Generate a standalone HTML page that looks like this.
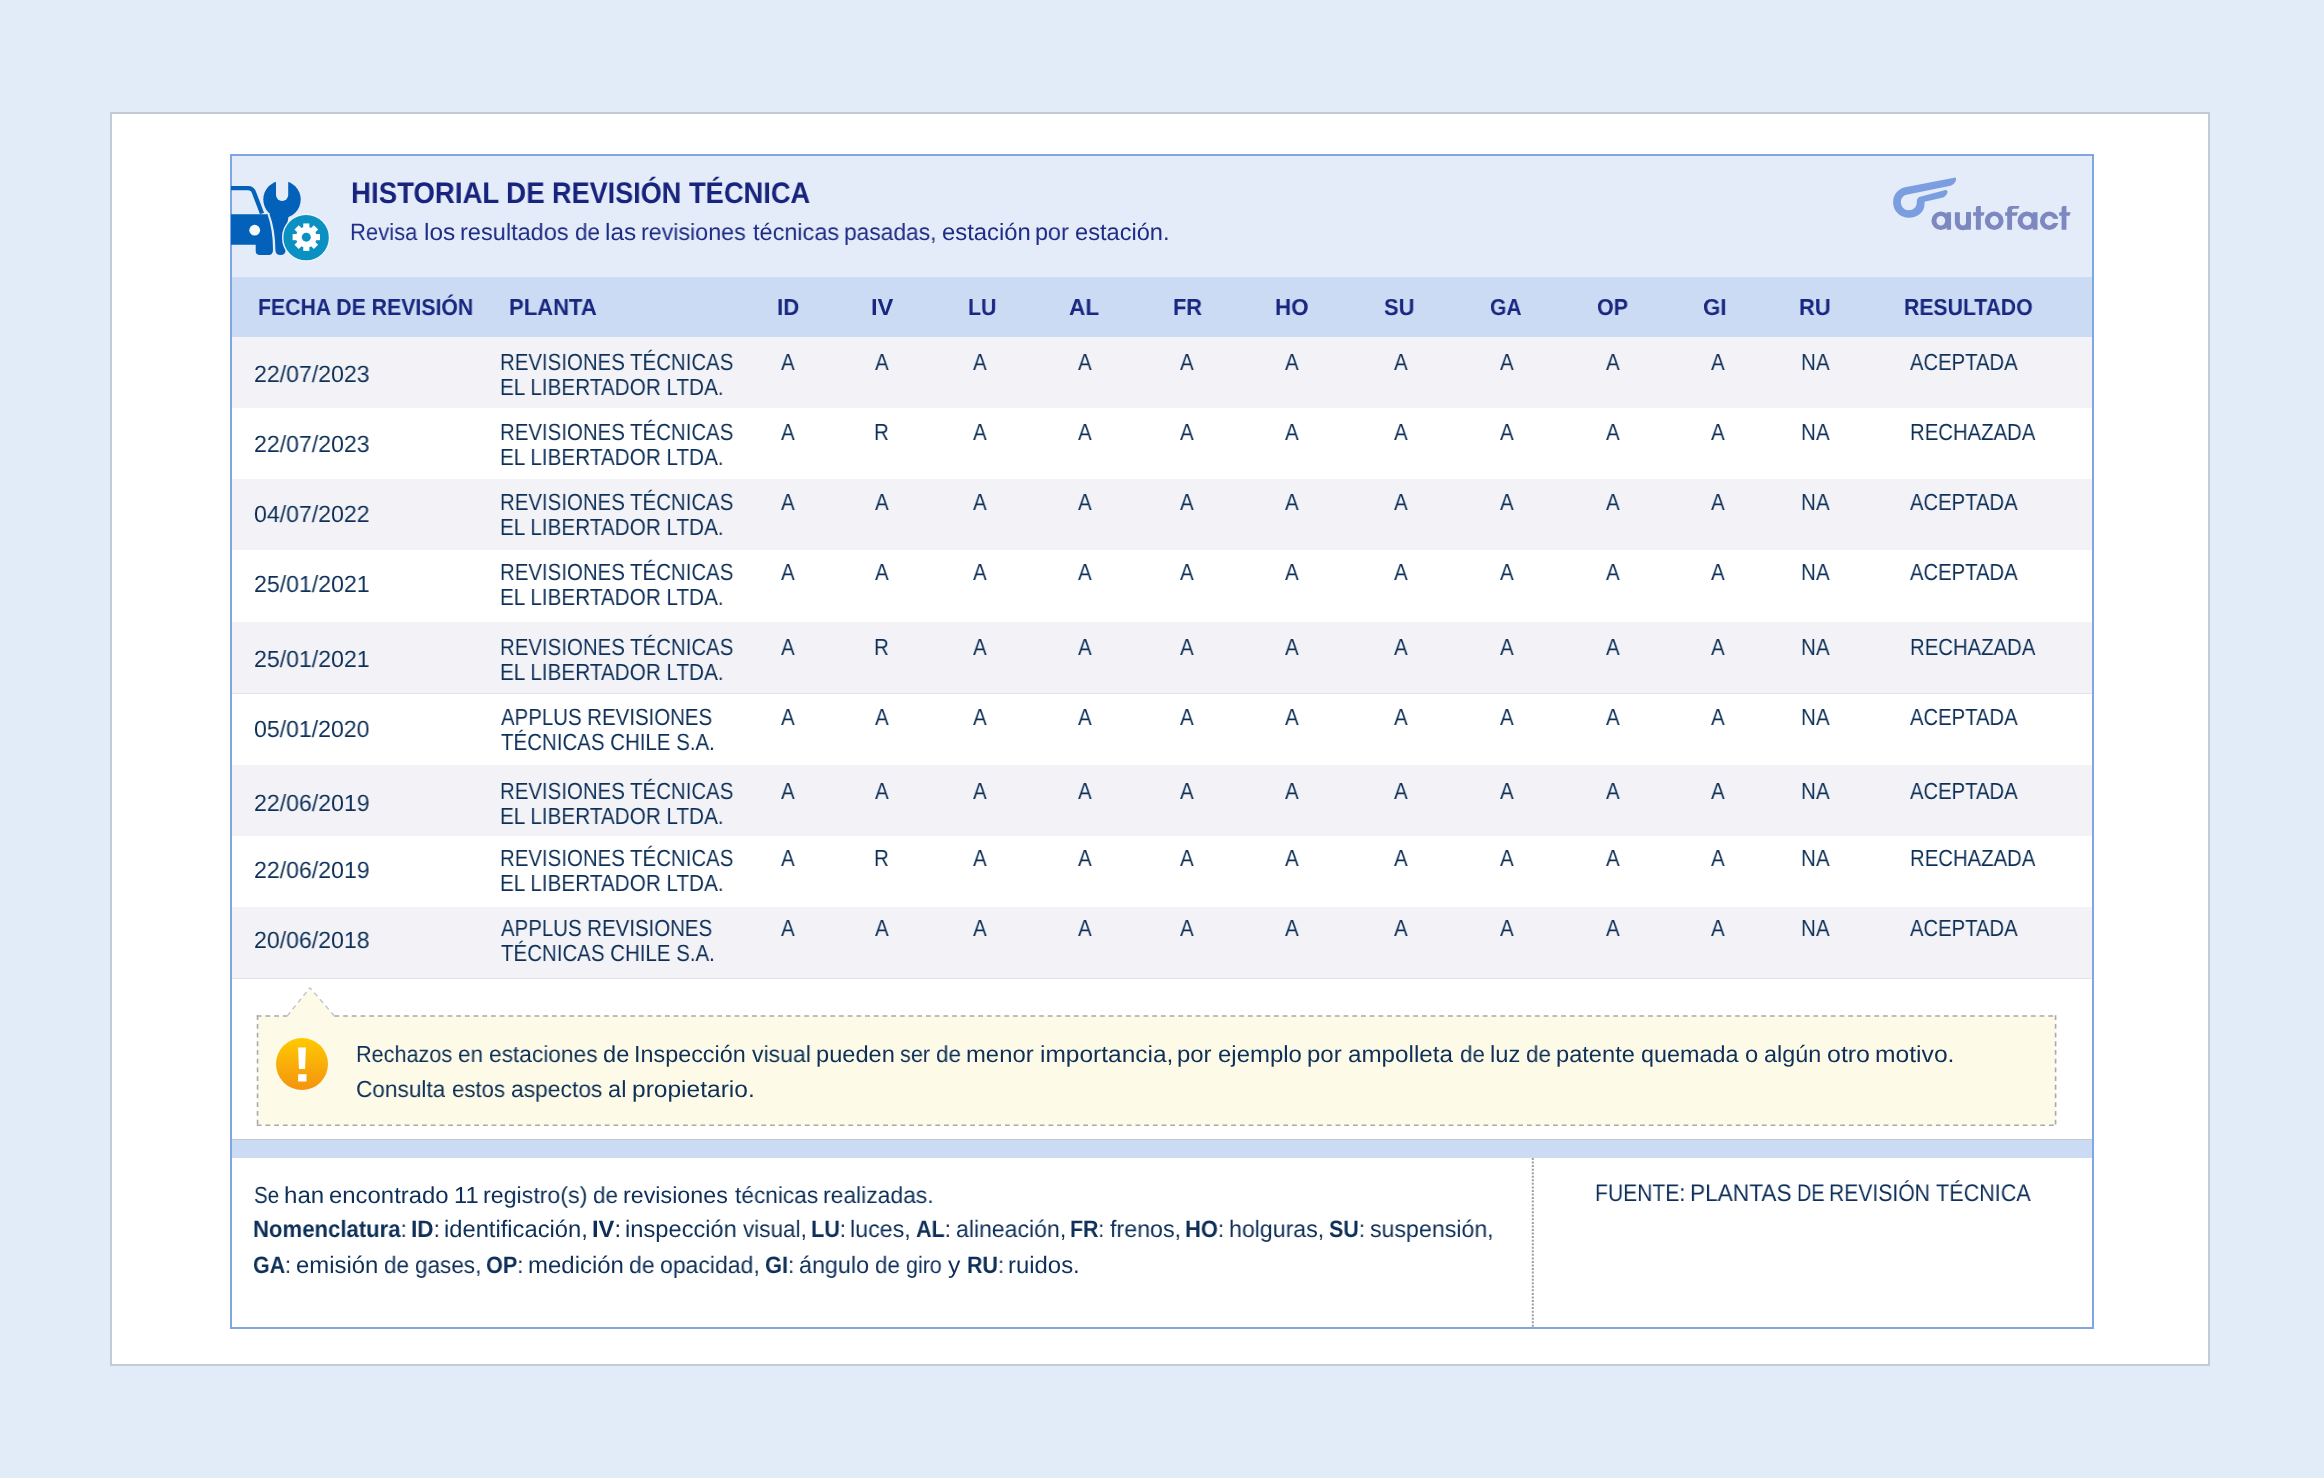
<!DOCTYPE html>
<html lang="es">
<head>
<meta charset="utf-8">
<title>Historial de revisión técnica</title>
<style>
html,body{margin:0;padding:0;}
body{width:2324px;height:1478px;background:#e2ecf8;position:relative;overflow:hidden;font-family:"Liberation Sans",sans-serif;}
.abs{position:absolute;}
.t{position:absolute;white-space:nowrap;transform-origin:0 0;text-rendering:geometricPrecision;will-change:transform;}
.t b{font-weight:bold;}
</style>
</head>
<body>
<!-- outer white panel -->
<div class="abs" style="left:110px;top:112px;width:2096px;height:1250px;border:2px solid #c3c9d6;background:#fff"></div>
<!-- card -->
<div class="abs" style="left:230px;top:154px;width:1860px;height:1171px;border:2px solid #80a5e1;background:#fff"></div>
<!-- card header bg -->
<div class="abs" style="left:232px;top:156px;width:1860px;height:121px;background:#e3ecf8"></div>
<!-- table header band -->
<div class="abs" style="left:232px;top:277px;width:1860px;height:60px;background:#cadbf3"></div>
<div style="position:absolute;left:232px;width:1860px;top:337px;height:70.8px;background:#f3f3f7"></div>
<div style="position:absolute;left:232px;width:1860px;top:407.8px;height:71.5px;background:#ffffff"></div>
<div style="position:absolute;left:232px;width:1860px;top:479.3px;height:71.1px;background:#f3f3f7"></div>
<div style="position:absolute;left:232px;width:1860px;top:550.4px;height:71.4px;background:#ffffff"></div>
<div style="position:absolute;left:232px;width:1860px;top:621.8px;height:71.7px;background:#f3f3f7"></div>
<div style="position:absolute;left:232px;width:1860px;top:693.5px;height:71.4px;background:#ffffff"></div>
<div style="position:absolute;left:232px;width:1860px;top:764.9px;height:70.7px;background:#f3f3f7"></div>
<div style="position:absolute;left:232px;width:1860px;top:835.6px;height:70.9px;background:#ffffff"></div>
<div style="position:absolute;left:232px;width:1860px;top:906.5px;height:71.5px;background:#f3f3f7"></div>
<!-- row separators -->
<div class="abs" style="left:232px;top:693px;width:1860px;height:1px;background:#e2e2e8"></div>
<div class="abs" style="left:232px;top:978px;width:1860px;height:1px;background:#e2e2e8"></div>
<!-- gray line + blue band -->
<div class="abs" style="left:232px;top:1139px;width:1860px;height:1px;background:#c8c8cc"></div>
<div class="abs" style="left:232px;top:1140px;width:1860px;height:18px;background:#cadbf3"></div>
<!-- footer dotted divider -->
<svg class="abs" style="left:1530px;top:1158px" width="6" height="170"><line x1="2.8" y1="0" x2="2.8" y2="170" stroke="#9e9e9e" stroke-width="2" stroke-dasharray="2 1.55"/></svg>

<!-- header icon -->
<svg class="abs" style="left:228px;top:170px" width="112" height="100" viewBox="0 0 112 100">
  <defs><clipPath id="cl"><rect x="3" y="0" width="112" height="100"/></clipPath></defs>
  <g clip-path="url(#cl)" fill="#0461ba">
    <path d="M -5 18.2 H 20 Q 24.5 18.2 26 22.5 L 34 43.5" fill="none" stroke="#0461ba" stroke-width="4.3"/>
    <path d="M -5 44.3 H 39.5 Q 45 60 45 80 Q 45 85 40.5 85 H 32 Q 27.7 85 27.7 81 V 74.8 H -5 Z"/>
    <circle cx="26.7" cy="60.2" r="5.4" fill="#f7fafe"/>
  </g>
  <g fill="#0461ba">
    <path d="M 41.2 43.6 L 61 43.6 Q 57.6 60 57.6 80 Q 57.6 85 52.5 85 Q 47.4 85 47.4 80 Q 47.4 60 41.2 43.6 Z" stroke="#e3ecf8" stroke-width="1.6"/>
    <path d="M 41.5 44 L 61 44 Q 57.6 60 57.6 80 Q 57.6 85 52.5 85 Q 47.4 85 47.4 80 Q 47.4 60 41.5 44 Z"/>
    <circle cx="54" cy="29.5" r="18.7"/>
    <path d="M 48 0 H 60.2 V 25 A 6.1 6.1 0 0 1 48 25 Z" fill="#e3ecf8"/>
  </g>
  <circle cx="78.1" cy="67.65" r="23.4" fill="#0a90c1" stroke="#eef4fb" stroke-width="1.4"/>
  <g fill="#fff" transform="translate(78.3 67.15)">
    <circle r="10.4"/>
    <rect x="-3.05" y="-13.7" width="6.1" height="6" transform="rotate(0)"/>
    <rect x="-3.05" y="-13.7" width="6.1" height="6" transform="rotate(45)"/>
    <rect x="-3.05" y="-13.7" width="6.1" height="6" transform="rotate(90)"/>
    <rect x="-3.05" y="-13.7" width="6.1" height="6" transform="rotate(135)"/>
    <rect x="-3.05" y="-13.7" width="6.1" height="6" transform="rotate(180)"/>
    <rect x="-3.05" y="-13.7" width="6.1" height="6" transform="rotate(225)"/>
    <rect x="-3.05" y="-13.7" width="6.1" height="6" transform="rotate(270)"/>
    <rect x="-3.05" y="-13.7" width="6.1" height="6" transform="rotate(315)"/>
    <circle r="4.5" fill="#0a90c1"/>
  </g>
</svg>

<!-- autofact logo -->
<svg class="abs" style="left:1880px;top:170px" width="200" height="70" viewBox="1880 170 200 70">
  <path fill="#7b9ee0" d="M 1955.5 177.4 C 1957 179 1955.5 184 1950.5 185.8 L 1906.5 194.8 C 1902 196 1900.8 199.5 1900.9 202.5 C 1901 207 1904.5 210.2 1908.5 210.2 C 1913.5 210.2 1916.8 207 1916.8 202.5 L 1916.8 201.5 C 1916.8 198.5 1918.5 197.2 1921 196.6 L 1944.5 190.2 C 1947.5 189.5 1948.5 192 1946.5 194.5 C 1945.5 196 1944.5 197.2 1942 197.8 L 1924.5 201.8 L 1924.5 204.5 C 1924.5 212 1917.5 217.8 1909 217.8 C 1900 217.8 1893.1 211 1893.1 202.5 C 1893.1 194 1898 189 1905 187.2 Z"/>
  <g fill="#7c88bf">
    <path fill-rule="evenodd" d="M 1931.44 220.75 a 9.36 9.3 0 1 0 18.72 0 a 9.36 9.3 0 1 0 -18.72 0 Z M 1936.4 220.75 a 4.4 4.85 0 1 0 8.8 0 a 4.4 4.85 0 1 0 -8.8 0 Z"/>
    <rect x="1946.6" y="212.2" width="4.46" height="17.5"/>
    <path d="M 1954.85 212.2 V 222.3 A 8.0 8.0 0 0 0 1970.86 222.3 V 212.2 H 1966.04 V 222.3 A 3.1 3.1 0 0 1 1959.84 222.3 V 212.2 Z"/>
    <rect x="1966.04" y="212.2" width="4.82" height="17.5"/>
    <path d="M 1975.85 229.7 V 208 Q 1975.85 205.96 1977.9 205.96 H 1980.84 V 229.7 Z M 1973.1 212.2 H 1984.6 L 1983.4 215.8 H 1973.1 Z"/>
    <path fill-rule="evenodd" d="M 1984.8 220.77 a 9.4 9.3 0 1 0 18.8 0 a 9.4 9.3 0 1 0 -18.8 0 Z M 1989.96 220.77 a 4.39 4.65 0 1 0 8.78 0 a 4.39 4.65 0 1 0 -8.78 0 Z"/>
    <path d="M 2007.23 229.7 V 210 Q 2007.23 205.96 2011.5 205.96 H 2019.6 L 2018.3 208.7 H 2013.5 Q 2012.05 208.7 2012.05 210.5 V 229.7 Z M 2005.16 212.2 H 2017.9 L 2016.7 215.8 H 2005.16 Z"/>
    <path fill-rule="evenodd" d="M 2017.56 220.75 a 9.4 9.3 0 1 0 18.8 0 a 9.4 9.3 0 1 0 -18.8 0 Z M 2022.7 220.75 a 4.4 4.85 0 1 0 8.8 0 a 4.4 4.85 0 1 0 -8.8 0 Z"/>
    <rect x="2032.7" y="212.2" width="4.8" height="17.5"/>
    <path fill-rule="evenodd" d="M 2039.93 220.77 a 9.35 9.3 0 1 0 18.7 0 a 9.35 9.3 0 1 0 -18.7 0 Z M 2044.75 220.77 a 4.5 4.65 0 1 0 9.0 0 a 4.5 4.65 0 1 0 -9.0 0 Z"/>
    <path d="M 2061.6 229.7 V 208 Q 2061.6 205.96 2063.6 205.96 H 2066.4 V 229.7 Z M 2059.2 212.2 H 2070.7 L 2069.5 215.8 H 2059.2 Z"/>
  </g>
  <rect x="2051" y="218.9" width="9" height="4.1" fill="#e3ecf8"/>
</svg>

<!-- warning box -->
<svg class="abs" style="left:0;top:0" width="2324" height="1478" viewBox="0 0 2324 1478">
  <path d="M 257.55 1016.05 H 287.2 L 309.9 987.7 L 334.4 1016.05 H 2055.6 V 1125.3 H 257.55 Z" fill="#fdfbe7"/>
  <g stroke="#a9a9a9" stroke-width="1.6" fill="none">
    <line x1="256.75" y1="1016.05" x2="287.2" y2="1016.05" stroke-dasharray="4.8 3.9"/>
    <line x1="334.4" y1="1016.05" x2="2056.4" y2="1016.05" stroke-dasharray="4.8 3.9"/>
    <line x1="2055.6" y1="1015.25" x2="2055.6" y2="1126.1" stroke-dasharray="4.8 3.9"/>
    <line x1="256.75" y1="1125.3" x2="2056.4" y2="1125.3" stroke-dasharray="4.8 3.9"/>
    <line x1="257.55" y1="1015.25" x2="257.55" y2="1126.1" stroke-dasharray="4.8 3.9"/>
  </g>
  <g stroke="#c9c9c9" stroke-width="1.6" fill="none">
    <line x1="287.2" y1="1016.05" x2="309.9" y2="987.7" stroke-dasharray="4.8 3.9"/>
    <line x1="334.4" y1="1016.05" x2="309.9" y2="987.7" stroke-dasharray="4.8 3.9"/>
  </g>
</svg>
<svg class="abs" style="left:274px;top:1036px" width="56" height="56" viewBox="0 0 56 56">
  <defs><linearGradient id="wg" x1="0" y1="0" x2="0" y2="1"><stop offset="0" stop-color="#ffc900"/><stop offset="1" stop-color="#f39410"/></linearGradient></defs>
  <circle cx="28" cy="28" r="26" fill="url(#wg)"/>
  <path d="M 24.1 11.4 H 31.9 L 31.1 32.9 H 24.9 Z" fill="#fff"/>
  <rect x="24.1" y="38.2" width="8.4" height="7.3" fill="#fff"/>
</svg>

<div class="t" style="top:179px;font-size:29.65px;line-height:29.65px;color:#18237d;font-weight:bold;left:350.84px;transform:scaleX(0.9315);">HISTORIAL</div>
<div class="t" style="top:179px;font-size:29.65px;line-height:29.65px;color:#18237d;font-weight:bold;left:506.03px;transform:scaleX(0.9388);">DE</div>
<div class="t" style="top:179px;font-size:29.65px;line-height:29.65px;color:#18237d;font-weight:bold;left:551.58px;transform:scaleX(0.9122);">REVISIÓN</div>
<div class="t" style="top:179px;font-size:29.65px;line-height:29.65px;color:#18237d;font-weight:bold;left:688.81px;transform:scaleX(0.9201);">TÉCNICA</div>
<div class="t" style="top:222px;font-size:23.6px;line-height:23.6px;color:#1f2c86;left:350.37px;transform:scaleX(0.9339);">Revisa</div>
<div class="t" style="top:222px;font-size:23.6px;line-height:23.6px;color:#1f2c86;left:423.71px;transform:scaleX(1.0355);">los</div>
<div class="t" style="top:222px;font-size:23.6px;line-height:23.6px;color:#1f2c86;left:459.98px;transform:scaleX(0.9975);">resultados</div>
<div class="t" style="top:222px;font-size:23.6px;line-height:23.6px;color:#1f2c86;left:574.53px;transform:scaleX(0.9566);">de</div>
<div class="t" style="top:222px;font-size:23.6px;line-height:23.6px;color:#1f2c86;left:604.52px;transform:scaleX(1.0319);">las</div>
<div class="t" style="top:222px;font-size:23.6px;line-height:23.6px;color:#1f2c86;left:640.70px;transform:scaleX(0.9853);">revisiones</div>
<div class="t" style="top:222px;font-size:23.6px;line-height:23.6px;color:#1f2c86;left:752.71px;transform:scaleX(0.9943);">técnicas</div>
<div class="t" style="top:222px;font-size:23.6px;line-height:23.6px;color:#1f2c86;left:844.25px;transform:scaleX(0.9645);">pasadas,</div>
<div class="t" style="top:222px;font-size:23.6px;line-height:23.6px;color:#1f2c86;left:941.58px;transform:scaleX(1.0107);">estación</div>
<div class="t" style="top:222px;font-size:23.6px;line-height:23.6px;color:#1f2c86;left:1034.91px;transform:scaleX(0.9908);">por</div>
<div class="t" style="top:222px;font-size:23.6px;line-height:23.6px;color:#1f2c86;left:1075.29px;transform:scaleX(1.0014);">estación.</div>
<div class="t" style="top:296px;font-size:23.1px;line-height:23.1px;color:#1a2780;font-weight:bold;left:258.25px;transform:scaleX(0.9200);">FECHA DE REVISIÓN</div>
<div class="t" style="top:296px;font-size:23.1px;line-height:23.1px;color:#1a2780;font-weight:bold;left:509.00px;transform:scaleX(0.9545);">PLANTA</div>
<div class="t" style="top:296px;font-size:23.1px;line-height:23.1px;color:#1a2780;font-weight:bold;left:777.19px;transform:scaleX(0.9605);">ID</div>
<div class="t" style="top:296px;font-size:23.1px;line-height:23.1px;color:#1a2780;font-weight:bold;left:871.38px;transform:scaleX(1.0272);">IV</div>
<div class="t" style="top:296px;font-size:23.1px;line-height:23.1px;color:#1a2780;font-weight:bold;left:967.84px;transform:scaleX(0.9249);">LU</div>
<div class="t" style="top:296px;font-size:23.1px;line-height:23.1px;color:#1a2780;font-weight:bold;left:1069.28px;transform:scaleX(0.9784);">AL</div>
<div class="t" style="top:296px;font-size:23.1px;line-height:23.1px;color:#1a2780;font-weight:bold;left:1172.51px;transform:scaleX(0.9456);">FR</div>
<div class="t" style="top:296px;font-size:23.1px;line-height:23.1px;color:#1a2780;font-weight:bold;left:1275.08px;transform:scaleX(0.9668);">HO</div>
<div class="t" style="top:296px;font-size:23.1px;line-height:23.1px;color:#1a2780;font-weight:bold;left:1384.20px;transform:scaleX(0.9464);">SU</div>
<div class="t" style="top:296px;font-size:23.1px;line-height:23.1px;color:#1a2780;font-weight:bold;left:1489.79px;transform:scaleX(0.9104);">GA</div>
<div class="t" style="top:296px;font-size:23.1px;line-height:23.1px;color:#1a2780;font-weight:bold;left:1596.78px;transform:scaleX(0.9274);">OP</div>
<div class="t" style="top:296px;font-size:23.1px;line-height:23.1px;color:#1a2780;font-weight:bold;left:1703.15px;transform:scaleX(0.9628);">GI</div>
<div class="t" style="top:296px;font-size:23.1px;line-height:23.1px;color:#1a2780;font-weight:bold;left:1799.21px;transform:scaleX(0.9477);">RU</div>
<div class="t" style="top:296px;font-size:23.1px;line-height:23.1px;color:#1a2780;font-weight:bold;left:1904.35px;transform:scaleX(0.9176);">RESULTADO</div>
<div class="t" style="top:363px;font-size:23.4px;line-height:23.4px;color:#0e3058;left:253.91px;transform:scaleX(0.9878);">22/07/2023</div>
<div class="t" style="top:351px;font-size:23.4px;line-height:23.4px;color:#0e3058;left:500.38px;transform:scaleX(0.8729);">REVISIONES TÉCNICAS</div>
<div class="t" style="top:376px;font-size:23.4px;line-height:23.4px;color:#0e3058;left:500.36px;transform:scaleX(0.8854);">EL LIBERTADOR LTDA.</div>
<div class="t" style="top:351px;font-size:23.4px;line-height:23.4px;color:#0e3058;left:781.22px;transform:scaleX(0.88);">A</div>
<div class="t" style="top:351px;font-size:23.4px;line-height:23.4px;color:#0e3058;left:875.42px;transform:scaleX(0.88);">A</div>
<div class="t" style="top:351px;font-size:23.4px;line-height:23.4px;color:#0e3058;left:972.62px;transform:scaleX(0.88);">A</div>
<div class="t" style="top:351px;font-size:23.4px;line-height:23.4px;color:#0e3058;left:1077.72px;transform:scaleX(0.88);">A</div>
<div class="t" style="top:351px;font-size:23.4px;line-height:23.4px;color:#0e3058;left:1179.72px;transform:scaleX(0.88);">A</div>
<div class="t" style="top:351px;font-size:23.4px;line-height:23.4px;color:#0e3058;left:1285.22px;transform:scaleX(0.88);">A</div>
<div class="t" style="top:351px;font-size:23.4px;line-height:23.4px;color:#0e3058;left:1394.02px;transform:scaleX(0.88);">A</div>
<div class="t" style="top:351px;font-size:23.4px;line-height:23.4px;color:#0e3058;left:1500.02px;transform:scaleX(0.88);">A</div>
<div class="t" style="top:351px;font-size:23.4px;line-height:23.4px;color:#0e3058;left:1605.52px;transform:scaleX(0.88);">A</div>
<div class="t" style="top:351px;font-size:23.4px;line-height:23.4px;color:#0e3058;left:1711.02px;transform:scaleX(0.88);">A</div>
<div class="t" style="top:351px;font-size:23.4px;line-height:23.4px;color:#0e3058;left:1800.81px;transform:scaleX(0.88);">NA</div>
<div class="t" style="top:351px;font-size:23.4px;line-height:23.4px;color:#0e3058;left:1910.33px;transform:scaleX(0.8658);">ACEPTADA</div>
<div class="t" style="top:433px;font-size:23.4px;line-height:23.4px;color:#0e3058;left:253.91px;transform:scaleX(0.9878);">22/07/2023</div>
<div class="t" style="top:421px;font-size:23.4px;line-height:23.4px;color:#0e3058;left:500.38px;transform:scaleX(0.8729);">REVISIONES TÉCNICAS</div>
<div class="t" style="top:446px;font-size:23.4px;line-height:23.4px;color:#0e3058;left:500.36px;transform:scaleX(0.8854);">EL LIBERTADOR LTDA.</div>
<div class="t" style="top:421px;font-size:23.4px;line-height:23.4px;color:#0e3058;left:781.22px;transform:scaleX(0.88);">A</div>
<div class="t" style="top:421px;font-size:23.4px;line-height:23.4px;color:#0e3058;left:874.34px;transform:scaleX(0.88);">R</div>
<div class="t" style="top:421px;font-size:23.4px;line-height:23.4px;color:#0e3058;left:972.62px;transform:scaleX(0.88);">A</div>
<div class="t" style="top:421px;font-size:23.4px;line-height:23.4px;color:#0e3058;left:1077.72px;transform:scaleX(0.88);">A</div>
<div class="t" style="top:421px;font-size:23.4px;line-height:23.4px;color:#0e3058;left:1179.72px;transform:scaleX(0.88);">A</div>
<div class="t" style="top:421px;font-size:23.4px;line-height:23.4px;color:#0e3058;left:1285.22px;transform:scaleX(0.88);">A</div>
<div class="t" style="top:421px;font-size:23.4px;line-height:23.4px;color:#0e3058;left:1394.02px;transform:scaleX(0.88);">A</div>
<div class="t" style="top:421px;font-size:23.4px;line-height:23.4px;color:#0e3058;left:1500.02px;transform:scaleX(0.88);">A</div>
<div class="t" style="top:421px;font-size:23.4px;line-height:23.4px;color:#0e3058;left:1605.52px;transform:scaleX(0.88);">A</div>
<div class="t" style="top:421px;font-size:23.4px;line-height:23.4px;color:#0e3058;left:1711.02px;transform:scaleX(0.88);">A</div>
<div class="t" style="top:421px;font-size:23.4px;line-height:23.4px;color:#0e3058;left:1800.81px;transform:scaleX(0.88);">NA</div>
<div class="t" style="top:421px;font-size:23.4px;line-height:23.4px;color:#0e3058;left:1910.29px;transform:scaleX(0.8687);">RECHAZADA</div>
<div class="t" style="top:503px;font-size:23.4px;line-height:23.4px;color:#0e3058;left:254.00px;transform:scaleX(0.9875);">04/07/2022</div>
<div class="t" style="top:491px;font-size:23.4px;line-height:23.4px;color:#0e3058;left:500.38px;transform:scaleX(0.8729);">REVISIONES TÉCNICAS</div>
<div class="t" style="top:516px;font-size:23.4px;line-height:23.4px;color:#0e3058;left:500.36px;transform:scaleX(0.8854);">EL LIBERTADOR LTDA.</div>
<div class="t" style="top:491px;font-size:23.4px;line-height:23.4px;color:#0e3058;left:781.22px;transform:scaleX(0.88);">A</div>
<div class="t" style="top:491px;font-size:23.4px;line-height:23.4px;color:#0e3058;left:875.42px;transform:scaleX(0.88);">A</div>
<div class="t" style="top:491px;font-size:23.4px;line-height:23.4px;color:#0e3058;left:972.62px;transform:scaleX(0.88);">A</div>
<div class="t" style="top:491px;font-size:23.4px;line-height:23.4px;color:#0e3058;left:1077.72px;transform:scaleX(0.88);">A</div>
<div class="t" style="top:491px;font-size:23.4px;line-height:23.4px;color:#0e3058;left:1179.72px;transform:scaleX(0.88);">A</div>
<div class="t" style="top:491px;font-size:23.4px;line-height:23.4px;color:#0e3058;left:1285.22px;transform:scaleX(0.88);">A</div>
<div class="t" style="top:491px;font-size:23.4px;line-height:23.4px;color:#0e3058;left:1394.02px;transform:scaleX(0.88);">A</div>
<div class="t" style="top:491px;font-size:23.4px;line-height:23.4px;color:#0e3058;left:1500.02px;transform:scaleX(0.88);">A</div>
<div class="t" style="top:491px;font-size:23.4px;line-height:23.4px;color:#0e3058;left:1605.52px;transform:scaleX(0.88);">A</div>
<div class="t" style="top:491px;font-size:23.4px;line-height:23.4px;color:#0e3058;left:1711.02px;transform:scaleX(0.88);">A</div>
<div class="t" style="top:491px;font-size:23.4px;line-height:23.4px;color:#0e3058;left:1800.81px;transform:scaleX(0.88);">NA</div>
<div class="t" style="top:491px;font-size:23.4px;line-height:23.4px;color:#0e3058;left:1910.33px;transform:scaleX(0.8658);">ACEPTADA</div>
<div class="t" style="top:573px;font-size:23.4px;line-height:23.4px;color:#0e3058;left:253.91px;transform:scaleX(0.9881);">25/01/2021</div>
<div class="t" style="top:561px;font-size:23.4px;line-height:23.4px;color:#0e3058;left:500.38px;transform:scaleX(0.8729);">REVISIONES TÉCNICAS</div>
<div class="t" style="top:586px;font-size:23.4px;line-height:23.4px;color:#0e3058;left:500.36px;transform:scaleX(0.8854);">EL LIBERTADOR LTDA.</div>
<div class="t" style="top:561px;font-size:23.4px;line-height:23.4px;color:#0e3058;left:781.22px;transform:scaleX(0.88);">A</div>
<div class="t" style="top:561px;font-size:23.4px;line-height:23.4px;color:#0e3058;left:875.42px;transform:scaleX(0.88);">A</div>
<div class="t" style="top:561px;font-size:23.4px;line-height:23.4px;color:#0e3058;left:972.62px;transform:scaleX(0.88);">A</div>
<div class="t" style="top:561px;font-size:23.4px;line-height:23.4px;color:#0e3058;left:1077.72px;transform:scaleX(0.88);">A</div>
<div class="t" style="top:561px;font-size:23.4px;line-height:23.4px;color:#0e3058;left:1179.72px;transform:scaleX(0.88);">A</div>
<div class="t" style="top:561px;font-size:23.4px;line-height:23.4px;color:#0e3058;left:1285.22px;transform:scaleX(0.88);">A</div>
<div class="t" style="top:561px;font-size:23.4px;line-height:23.4px;color:#0e3058;left:1394.02px;transform:scaleX(0.88);">A</div>
<div class="t" style="top:561px;font-size:23.4px;line-height:23.4px;color:#0e3058;left:1500.02px;transform:scaleX(0.88);">A</div>
<div class="t" style="top:561px;font-size:23.4px;line-height:23.4px;color:#0e3058;left:1605.52px;transform:scaleX(0.88);">A</div>
<div class="t" style="top:561px;font-size:23.4px;line-height:23.4px;color:#0e3058;left:1711.02px;transform:scaleX(0.88);">A</div>
<div class="t" style="top:561px;font-size:23.4px;line-height:23.4px;color:#0e3058;left:1800.81px;transform:scaleX(0.88);">NA</div>
<div class="t" style="top:561px;font-size:23.4px;line-height:23.4px;color:#0e3058;left:1910.33px;transform:scaleX(0.8658);">ACEPTADA</div>
<div class="t" style="top:648px;font-size:23.4px;line-height:23.4px;color:#0e3058;left:253.91px;transform:scaleX(0.9881);">25/01/2021</div>
<div class="t" style="top:636px;font-size:23.4px;line-height:23.4px;color:#0e3058;left:500.38px;transform:scaleX(0.8729);">REVISIONES TÉCNICAS</div>
<div class="t" style="top:661px;font-size:23.4px;line-height:23.4px;color:#0e3058;left:500.36px;transform:scaleX(0.8854);">EL LIBERTADOR LTDA.</div>
<div class="t" style="top:636px;font-size:23.4px;line-height:23.4px;color:#0e3058;left:781.22px;transform:scaleX(0.88);">A</div>
<div class="t" style="top:636px;font-size:23.4px;line-height:23.4px;color:#0e3058;left:874.34px;transform:scaleX(0.88);">R</div>
<div class="t" style="top:636px;font-size:23.4px;line-height:23.4px;color:#0e3058;left:972.62px;transform:scaleX(0.88);">A</div>
<div class="t" style="top:636px;font-size:23.4px;line-height:23.4px;color:#0e3058;left:1077.72px;transform:scaleX(0.88);">A</div>
<div class="t" style="top:636px;font-size:23.4px;line-height:23.4px;color:#0e3058;left:1179.72px;transform:scaleX(0.88);">A</div>
<div class="t" style="top:636px;font-size:23.4px;line-height:23.4px;color:#0e3058;left:1285.22px;transform:scaleX(0.88);">A</div>
<div class="t" style="top:636px;font-size:23.4px;line-height:23.4px;color:#0e3058;left:1394.02px;transform:scaleX(0.88);">A</div>
<div class="t" style="top:636px;font-size:23.4px;line-height:23.4px;color:#0e3058;left:1500.02px;transform:scaleX(0.88);">A</div>
<div class="t" style="top:636px;font-size:23.4px;line-height:23.4px;color:#0e3058;left:1605.52px;transform:scaleX(0.88);">A</div>
<div class="t" style="top:636px;font-size:23.4px;line-height:23.4px;color:#0e3058;left:1711.02px;transform:scaleX(0.88);">A</div>
<div class="t" style="top:636px;font-size:23.4px;line-height:23.4px;color:#0e3058;left:1800.81px;transform:scaleX(0.88);">NA</div>
<div class="t" style="top:636px;font-size:23.4px;line-height:23.4px;color:#0e3058;left:1910.29px;transform:scaleX(0.8687);">RECHAZADA</div>
<div class="t" style="top:718px;font-size:23.4px;line-height:23.4px;color:#0e3058;left:254.00px;transform:scaleX(0.9865);">05/01/2020</div>
<div class="t" style="top:706px;font-size:23.4px;line-height:23.4px;color:#0e3058;left:500.53px;transform:scaleX(0.8731);">APPLUS REVISIONES</div>
<div class="t" style="top:731px;font-size:23.4px;line-height:23.4px;color:#0e3058;left:500.80px;transform:scaleX(0.8751);">TÉCNICAS CHILE S.A.</div>
<div class="t" style="top:706px;font-size:23.4px;line-height:23.4px;color:#0e3058;left:781.22px;transform:scaleX(0.88);">A</div>
<div class="t" style="top:706px;font-size:23.4px;line-height:23.4px;color:#0e3058;left:875.42px;transform:scaleX(0.88);">A</div>
<div class="t" style="top:706px;font-size:23.4px;line-height:23.4px;color:#0e3058;left:972.62px;transform:scaleX(0.88);">A</div>
<div class="t" style="top:706px;font-size:23.4px;line-height:23.4px;color:#0e3058;left:1077.72px;transform:scaleX(0.88);">A</div>
<div class="t" style="top:706px;font-size:23.4px;line-height:23.4px;color:#0e3058;left:1179.72px;transform:scaleX(0.88);">A</div>
<div class="t" style="top:706px;font-size:23.4px;line-height:23.4px;color:#0e3058;left:1285.22px;transform:scaleX(0.88);">A</div>
<div class="t" style="top:706px;font-size:23.4px;line-height:23.4px;color:#0e3058;left:1394.02px;transform:scaleX(0.88);">A</div>
<div class="t" style="top:706px;font-size:23.4px;line-height:23.4px;color:#0e3058;left:1500.02px;transform:scaleX(0.88);">A</div>
<div class="t" style="top:706px;font-size:23.4px;line-height:23.4px;color:#0e3058;left:1605.52px;transform:scaleX(0.88);">A</div>
<div class="t" style="top:706px;font-size:23.4px;line-height:23.4px;color:#0e3058;left:1711.02px;transform:scaleX(0.88);">A</div>
<div class="t" style="top:706px;font-size:23.4px;line-height:23.4px;color:#0e3058;left:1800.81px;transform:scaleX(0.88);">NA</div>
<div class="t" style="top:706px;font-size:23.4px;line-height:23.4px;color:#0e3058;left:1910.33px;transform:scaleX(0.8658);">ACEPTADA</div>
<div class="t" style="top:792px;font-size:23.4px;line-height:23.4px;color:#0e3058;left:253.91px;transform:scaleX(0.9881);">22/06/2019</div>
<div class="t" style="top:780px;font-size:23.4px;line-height:23.4px;color:#0e3058;left:500.38px;transform:scaleX(0.8729);">REVISIONES TÉCNICAS</div>
<div class="t" style="top:805px;font-size:23.4px;line-height:23.4px;color:#0e3058;left:500.36px;transform:scaleX(0.8854);">EL LIBERTADOR LTDA.</div>
<div class="t" style="top:780px;font-size:23.4px;line-height:23.4px;color:#0e3058;left:781.22px;transform:scaleX(0.88);">A</div>
<div class="t" style="top:780px;font-size:23.4px;line-height:23.4px;color:#0e3058;left:875.42px;transform:scaleX(0.88);">A</div>
<div class="t" style="top:780px;font-size:23.4px;line-height:23.4px;color:#0e3058;left:972.62px;transform:scaleX(0.88);">A</div>
<div class="t" style="top:780px;font-size:23.4px;line-height:23.4px;color:#0e3058;left:1077.72px;transform:scaleX(0.88);">A</div>
<div class="t" style="top:780px;font-size:23.4px;line-height:23.4px;color:#0e3058;left:1179.72px;transform:scaleX(0.88);">A</div>
<div class="t" style="top:780px;font-size:23.4px;line-height:23.4px;color:#0e3058;left:1285.22px;transform:scaleX(0.88);">A</div>
<div class="t" style="top:780px;font-size:23.4px;line-height:23.4px;color:#0e3058;left:1394.02px;transform:scaleX(0.88);">A</div>
<div class="t" style="top:780px;font-size:23.4px;line-height:23.4px;color:#0e3058;left:1500.02px;transform:scaleX(0.88);">A</div>
<div class="t" style="top:780px;font-size:23.4px;line-height:23.4px;color:#0e3058;left:1605.52px;transform:scaleX(0.88);">A</div>
<div class="t" style="top:780px;font-size:23.4px;line-height:23.4px;color:#0e3058;left:1711.02px;transform:scaleX(0.88);">A</div>
<div class="t" style="top:780px;font-size:23.4px;line-height:23.4px;color:#0e3058;left:1800.81px;transform:scaleX(0.88);">NA</div>
<div class="t" style="top:780px;font-size:23.4px;line-height:23.4px;color:#0e3058;left:1910.33px;transform:scaleX(0.8658);">ACEPTADA</div>
<div class="t" style="top:859px;font-size:23.4px;line-height:23.4px;color:#0e3058;left:253.91px;transform:scaleX(0.9881);">22/06/2019</div>
<div class="t" style="top:847px;font-size:23.4px;line-height:23.4px;color:#0e3058;left:500.38px;transform:scaleX(0.8729);">REVISIONES TÉCNICAS</div>
<div class="t" style="top:872px;font-size:23.4px;line-height:23.4px;color:#0e3058;left:500.36px;transform:scaleX(0.8854);">EL LIBERTADOR LTDA.</div>
<div class="t" style="top:847px;font-size:23.4px;line-height:23.4px;color:#0e3058;left:781.22px;transform:scaleX(0.88);">A</div>
<div class="t" style="top:847px;font-size:23.4px;line-height:23.4px;color:#0e3058;left:874.34px;transform:scaleX(0.88);">R</div>
<div class="t" style="top:847px;font-size:23.4px;line-height:23.4px;color:#0e3058;left:972.62px;transform:scaleX(0.88);">A</div>
<div class="t" style="top:847px;font-size:23.4px;line-height:23.4px;color:#0e3058;left:1077.72px;transform:scaleX(0.88);">A</div>
<div class="t" style="top:847px;font-size:23.4px;line-height:23.4px;color:#0e3058;left:1179.72px;transform:scaleX(0.88);">A</div>
<div class="t" style="top:847px;font-size:23.4px;line-height:23.4px;color:#0e3058;left:1285.22px;transform:scaleX(0.88);">A</div>
<div class="t" style="top:847px;font-size:23.4px;line-height:23.4px;color:#0e3058;left:1394.02px;transform:scaleX(0.88);">A</div>
<div class="t" style="top:847px;font-size:23.4px;line-height:23.4px;color:#0e3058;left:1500.02px;transform:scaleX(0.88);">A</div>
<div class="t" style="top:847px;font-size:23.4px;line-height:23.4px;color:#0e3058;left:1605.52px;transform:scaleX(0.88);">A</div>
<div class="t" style="top:847px;font-size:23.4px;line-height:23.4px;color:#0e3058;left:1711.02px;transform:scaleX(0.88);">A</div>
<div class="t" style="top:847px;font-size:23.4px;line-height:23.4px;color:#0e3058;left:1800.81px;transform:scaleX(0.88);">NA</div>
<div class="t" style="top:847px;font-size:23.4px;line-height:23.4px;color:#0e3058;left:1910.29px;transform:scaleX(0.8687);">RECHAZADA</div>
<div class="t" style="top:929px;font-size:23.4px;line-height:23.4px;color:#0e3058;left:253.91px;transform:scaleX(0.9878);">20/06/2018</div>
<div class="t" style="top:917px;font-size:23.4px;line-height:23.4px;color:#0e3058;left:500.53px;transform:scaleX(0.8731);">APPLUS REVISIONES</div>
<div class="t" style="top:942px;font-size:23.4px;line-height:23.4px;color:#0e3058;left:500.80px;transform:scaleX(0.8751);">TÉCNICAS CHILE S.A.</div>
<div class="t" style="top:917px;font-size:23.4px;line-height:23.4px;color:#0e3058;left:781.22px;transform:scaleX(0.88);">A</div>
<div class="t" style="top:917px;font-size:23.4px;line-height:23.4px;color:#0e3058;left:875.42px;transform:scaleX(0.88);">A</div>
<div class="t" style="top:917px;font-size:23.4px;line-height:23.4px;color:#0e3058;left:972.62px;transform:scaleX(0.88);">A</div>
<div class="t" style="top:917px;font-size:23.4px;line-height:23.4px;color:#0e3058;left:1077.72px;transform:scaleX(0.88);">A</div>
<div class="t" style="top:917px;font-size:23.4px;line-height:23.4px;color:#0e3058;left:1179.72px;transform:scaleX(0.88);">A</div>
<div class="t" style="top:917px;font-size:23.4px;line-height:23.4px;color:#0e3058;left:1285.22px;transform:scaleX(0.88);">A</div>
<div class="t" style="top:917px;font-size:23.4px;line-height:23.4px;color:#0e3058;left:1394.02px;transform:scaleX(0.88);">A</div>
<div class="t" style="top:917px;font-size:23.4px;line-height:23.4px;color:#0e3058;left:1500.02px;transform:scaleX(0.88);">A</div>
<div class="t" style="top:917px;font-size:23.4px;line-height:23.4px;color:#0e3058;left:1605.52px;transform:scaleX(0.88);">A</div>
<div class="t" style="top:917px;font-size:23.4px;line-height:23.4px;color:#0e3058;left:1711.02px;transform:scaleX(0.88);">A</div>
<div class="t" style="top:917px;font-size:23.4px;line-height:23.4px;color:#0e3058;left:1800.81px;transform:scaleX(0.88);">NA</div>
<div class="t" style="top:917px;font-size:23.4px;line-height:23.4px;color:#0e3058;left:1910.33px;transform:scaleX(0.8658);">ACEPTADA</div>
<div class="t" style="top:1043px;font-size:23.3px;line-height:23.3px;color:#0e3058;left:355.80px;transform:scaleX(0.9279);">Rechazos</div>
<div class="t" style="top:1043px;font-size:23.3px;line-height:23.3px;color:#0e3058;left:458.03px;transform:scaleX(0.9644);">en</div>
<div class="t" style="top:1043px;font-size:23.3px;line-height:23.3px;color:#0e3058;left:488.72px;transform:scaleX(0.9748);">estaciones</div>
<div class="t" style="top:1043px;font-size:23.3px;line-height:23.3px;color:#0e3058;left:603.48px;transform:scaleX(1.0139);">de</div>
<div class="t" style="top:1043px;font-size:23.3px;line-height:23.3px;color:#0e3058;left:634.46px;transform:scaleX(1.0031);">Inspección</div>
<div class="t" style="top:1043px;font-size:23.3px;line-height:23.3px;color:#0e3058;left:752.41px;transform:scaleX(0.9876);">visual</div>
<div class="t" style="top:1043px;font-size:23.3px;line-height:23.3px;color:#0e3058;left:815.80px;transform:scaleX(1.0147);">pueden</div>
<div class="t" style="top:1043px;font-size:23.3px;line-height:23.3px;color:#0e3058;left:899.99px;transform:scaleX(0.9298);">ser</div>
<div class="t" style="top:1043px;font-size:23.3px;line-height:23.3px;color:#0e3058;left:936.43px;transform:scaleX(0.9643);">de</div>
<div class="t" style="top:1043px;font-size:23.3px;line-height:23.3px;color:#0e3058;left:966.45px;transform:scaleX(1.0237);">menor</div>
<div class="t" style="top:1043px;font-size:23.3px;line-height:23.3px;color:#0e3058;left:1039.82px;transform:scaleX(1.0512);">importancia,</div>
<div class="t" style="top:1043px;font-size:23.3px;line-height:23.3px;color:#0e3058;left:1177.18px;transform:scaleX(1.0273);">por</div>
<div class="t" style="top:1043px;font-size:23.3px;line-height:23.3px;color:#0e3058;left:1218.07px;transform:scaleX(1.0286);">ejemplo</div>
<div class="t" style="top:1043px;font-size:23.3px;line-height:23.3px;color:#0e3058;left:1307.28px;transform:scaleX(1.0304);">por</div>
<div class="t" style="top:1043px;font-size:23.3px;line-height:23.3px;color:#0e3058;left:1348.26px;transform:scaleX(1.0389);">ampolleta</div>
<div class="t" style="top:1043px;font-size:23.3px;line-height:23.3px;color:#0e3058;left:1459.93px;transform:scaleX(0.9602);">de</div>
<div class="t" style="top:1043px;font-size:23.3px;line-height:23.3px;color:#0e3058;left:1489.87px;transform:scaleX(1.0209);">luz</div>
<div class="t" style="top:1043px;font-size:23.3px;line-height:23.3px;color:#0e3058;left:1526.13px;transform:scaleX(0.9643);">de</div>
<div class="t" style="top:1043px;font-size:23.3px;line-height:23.3px;color:#0e3058;left:1556.20px;transform:scaleX(1.0145);">patente</div>
<div class="t" style="top:1043px;font-size:23.3px;line-height:23.3px;color:#0e3058;left:1640.89px;transform:scaleX(1.0034);">quemada</div>
<div class="t" style="top:1043px;font-size:23.3px;line-height:23.3px;color:#0e3058;left:1745.08px;transform:scaleX(1.0179);">o</div>
<div class="t" style="top:1043px;font-size:23.3px;line-height:23.3px;color:#0e3058;left:1763.99px;transform:scaleX(1.0026);">algún</div>
<div class="t" style="top:1043px;font-size:23.3px;line-height:23.3px;color:#0e3058;left:1826.63px;transform:scaleX(1.0710);">otro</div>
<div class="t" style="top:1043px;font-size:23.3px;line-height:23.3px;color:#0e3058;left:1874.50px;transform:scaleX(1.0581);">motivo.</div>
<div class="t" style="top:1078px;font-size:23.3px;line-height:23.3px;color:#0e3058;left:356.27px;transform:scaleX(0.9710);">Consulta</div>
<div class="t" style="top:1078px;font-size:23.3px;line-height:23.3px;color:#0e3058;left:452.34px;transform:scaleX(0.9534);">estos</div>
<div class="t" style="top:1078px;font-size:23.3px;line-height:23.3px;color:#0e3058;left:511.41px;transform:scaleX(0.9799);">aspectos</div>
<div class="t" style="top:1078px;font-size:23.3px;line-height:23.3px;color:#0e3058;left:608.48px;transform:scaleX(1.0138);">al</div>
<div class="t" style="top:1078px;font-size:23.3px;line-height:23.3px;color:#0e3058;left:631.54px;transform:scaleX(1.0535);">propietario.</div>
<div class="t" style="top:1184px;font-size:23.25px;line-height:23.25px;color:#0e3058;left:253.97px;transform:scaleX(0.8839);">Se</div>
<div class="t" style="top:1184px;font-size:23.25px;line-height:23.25px;color:#0e3058;left:283.71px;transform:scaleX(1.0364);">han</div>
<div class="t" style="top:1184px;font-size:23.25px;line-height:23.25px;color:#0e3058;left:328.87px;transform:scaleX(1.0283);">encontrado</div>
<div class="t" style="top:1184px;font-size:23.25px;line-height:23.25px;color:#0e3058;left:453.80px;transform:scaleX(1.0204);">11</div>
<div class="t" style="top:1184px;font-size:23.25px;line-height:23.25px;color:#0e3058;left:483.30px;transform:scaleX(0.9969);">registro(s)</div>
<div class="t" style="top:1184px;font-size:23.25px;line-height:23.25px;color:#0e3058;left:592.95px;transform:scaleX(0.9642);">de</div>
<div class="t" style="top:1184px;font-size:23.25px;line-height:23.25px;color:#0e3058;left:622.99px;transform:scaleX(1.0010);">revisiones</div>
<div class="t" style="top:1184px;font-size:23.25px;line-height:23.25px;color:#0e3058;left:734.61px;transform:scaleX(0.9746);">técnicas</div>
<div class="t" style="top:1184px;font-size:23.25px;line-height:23.25px;color:#0e3058;left:823.32px;transform:scaleX(0.9841);">realizadas.</div>
<div class="t" style="top:1219px;font-size:23.7px;line-height:23.7px;color:#0e3058;left:252.60px;transform:scaleX(0.9344);"><b>Nomenclatura</b>:</div>
<div class="t" style="top:1219px;font-size:23.7px;line-height:23.7px;color:#0e3058;left:410.97px;transform:scaleX(0.9524);"><b>ID</b>:</div>
<div class="t" style="top:1219px;font-size:23.7px;line-height:23.7px;color:#0e3058;left:443.89px;transform:scaleX(1.0015);">identificación,</div>
<div class="t" style="top:1219px;font-size:23.7px;line-height:23.7px;color:#0e3058;left:592.09px;transform:scaleX(0.9993);"><b>IV</b>:</div>
<div class="t" style="top:1219px;font-size:23.7px;line-height:23.7px;color:#0e3058;left:625.19px;transform:scaleX(0.9986);">inspección</div>
<div class="t" style="top:1219px;font-size:23.7px;line-height:23.7px;color:#0e3058;left:743.13px;transform:scaleX(0.9515);">visual,</div>
<div class="t" style="top:1219px;font-size:23.7px;line-height:23.7px;color:#0e3058;left:811.23px;transform:scaleX(0.9155);"><b>LU</b>:</div>
<div class="t" style="top:1219px;font-size:23.7px;line-height:23.7px;color:#0e3058;left:850.30px;transform:scaleX(0.9810);">luces,</div>
<div class="t" style="top:1219px;font-size:23.7px;line-height:23.7px;color:#0e3058;left:916.12px;transform:scaleX(0.9131);"><b>AL</b>:</div>
<div class="t" style="top:1219px;font-size:23.7px;line-height:23.7px;color:#0e3058;left:955.81px;transform:scaleX(0.9729);">alineación,</div>
<div class="t" style="top:1219px;font-size:23.7px;line-height:23.7px;color:#0e3058;left:1070.26px;transform:scaleX(0.8981);"><b>FR</b>:</div>
<div class="t" style="top:1219px;font-size:23.7px;line-height:23.7px;color:#0e3058;left:1110.32px;transform:scaleX(0.9812);">frenos,</div>
<div class="t" style="top:1219px;font-size:23.7px;line-height:23.7px;color:#0e3058;left:1185.41px;transform:scaleX(0.9295);"><b>HO</b>:</div>
<div class="t" style="top:1219px;font-size:23.7px;line-height:23.7px;color:#0e3058;left:1228.68px;transform:scaleX(0.9771);">holguras,</div>
<div class="t" style="top:1219px;font-size:23.7px;line-height:23.7px;color:#0e3058;left:1328.63px;transform:scaleX(0.9074);"><b>SU</b>:</div>
<div class="t" style="top:1219px;font-size:23.7px;line-height:23.7px;color:#0e3058;left:1369.93px;transform:scaleX(0.9779);">suspensión,</div>
<div class="t" style="top:1255px;font-size:23.7px;line-height:23.7px;color:#0e3058;left:253.20px;transform:scaleX(0.9022);"><b>GA</b>:</div>
<div class="t" style="top:1255px;font-size:23.7px;line-height:23.7px;color:#0e3058;left:296.08px;transform:scaleX(1.0082);">emisión</div>
<div class="t" style="top:1255px;font-size:23.7px;line-height:23.7px;color:#0e3058;left:383.74px;transform:scaleX(0.9462);">de</div>
<div class="t" style="top:1255px;font-size:23.7px;line-height:23.7px;color:#0e3058;left:414.54px;transform:scaleX(0.9504);">gases,</div>
<div class="t" style="top:1255px;font-size:23.7px;line-height:23.7px;color:#0e3058;left:485.99px;transform:scaleX(0.9125);"><b>OP</b>:</div>
<div class="t" style="top:1255px;font-size:23.7px;line-height:23.7px;color:#0e3058;left:527.53px;transform:scaleX(1.0119);">medición</div>
<div class="t" style="top:1255px;font-size:23.7px;line-height:23.7px;color:#0e3058;left:628.62px;transform:scaleX(0.9706);">de</div>
<div class="t" style="top:1255px;font-size:23.7px;line-height:23.7px;color:#0e3058;left:660.02px;transform:scaleX(0.9708);">opacidad,</div>
<div class="t" style="top:1255px;font-size:23.7px;line-height:23.7px;color:#0e3058;left:764.88px;transform:scaleX(0.9208);"><b>GI</b>:</div>
<div class="t" style="top:1255px;font-size:23.7px;line-height:23.7px;color:#0e3058;left:799.20px;transform:scaleX(0.9847);">ángulo</div>
<div class="t" style="top:1255px;font-size:23.7px;line-height:23.7px;color:#0e3058;left:875.15px;transform:scaleX(0.9421);">de</div>
<div class="t" style="top:1255px;font-size:23.7px;line-height:23.7px;color:#0e3058;left:905.88px;transform:scaleX(0.9052);">giro</div>
<div class="t" style="top:1255px;font-size:23.7px;line-height:23.7px;color:#0e3058;left:948.47px;transform:scaleX(1.0461);">y</div>
<div class="t" style="top:1255px;font-size:23.7px;line-height:23.7px;color:#0e3058;left:966.74px;transform:scaleX(0.9061);"><b>RU</b>:</div>
<div class="t" style="top:1255px;font-size:23.7px;line-height:23.7px;color:#0e3058;left:1008.05px;transform:scaleX(1.0087);">ruidos.</div>
<div class="t" style="top:1182px;font-size:24.0px;line-height:24.0px;color:#0e3058;left:1595.25px;transform:scaleX(0.8789);">FUENTE:</div>
<div class="t" style="top:1182px;font-size:24.0px;line-height:24.0px;color:#0e3058;left:1689.92px;transform:scaleX(0.9448);">PLANTAS</div>
<div class="t" style="top:1182px;font-size:24.0px;line-height:24.0px;color:#0e3058;left:1796.64px;transform:scaleX(0.8282);">DE</div>
<div class="t" style="top:1182px;font-size:24.0px;line-height:24.0px;color:#0e3058;left:1829.44px;transform:scaleX(0.8801);">REVISIÓN</div>
<div class="t" style="top:1182px;font-size:24.0px;line-height:24.0px;color:#0e3058;left:1936.08px;transform:scaleX(0.8995);">TÉCNICA</div>
</body>
</html>
